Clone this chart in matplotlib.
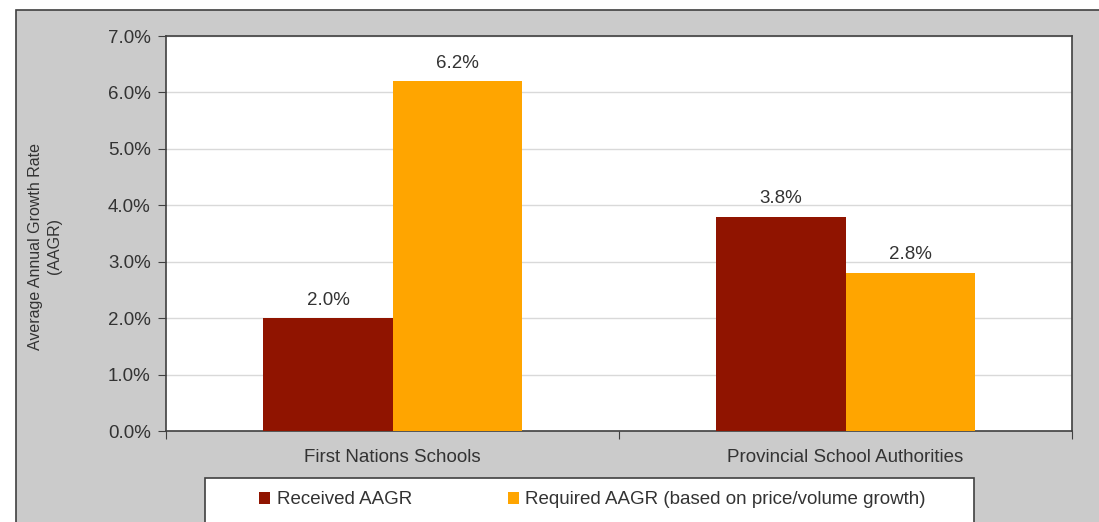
import matplotlib.pyplot as plt
import numpy as np
from matplotlib.patches import Rectangle

plt.rcParams['font.family'] = ['Liberation Sans', 'DejaVu Sans']

categories = ["First Nations Schools", "Provincial School Authorities"]
received = [2.0, 3.8]
required = [6.2, 2.8]
series_names = ["Received AAGR", "Required AAGR (based on price/volume growth)"]
yticks = [0, 1, 2, 3, 4, 5, 6, 7]

W, H = 1099, 522
fig = plt.figure(figsize=(W / 100, H / 100), dpi=100)
fig.patch.set_facecolor("white")

# gray chart frame
fig.patches.append(Rectangle((16 / W, -0.1), 1.2, (H - 10) / H + 0.1,
                             transform=fig.transFigure, facecolor="#cbcbcb",
                             edgecolor="#404040", lw=1.2, zorder=-3))

ax = fig.add_axes([166 / W, (H - 431) / H, (1072 - 166) / W, (431 - 36) / H])
ax.set_facecolor("white")

x = np.arange(len(categories))
bw = 0.285
b1 = ax.bar(x - bw / 2, received, bw, color="#901400", label=series_names[0], zorder=3)
b2 = ax.bar(x + bw / 2, required, bw, color="#ffa500", label=series_names[1], zorder=3)

for bars, vals in [(b1, received), (b2, required)]:
    for b, v in zip(bars, vals):
        ax.text(b.get_x() + b.get_width() / 2, v + 0.17, f"{v:.1f}%",
                ha="center", va="bottom", fontsize=13.5, color="#333333")

ax.set_xlim(-0.5, 1.5)
ax.set_ylim(0, 7)
ax.set_yticks(yticks)
ax.set_yticklabels([f"{t:.1f}%" for t in yticks], fontsize=13.5, color="#333333")
ax.yaxis.grid(True, color="#d9d9d9", lw=1, zorder=0)
ax.set_xticks([-0.5, 0.5, 1.5])
ax.set_xticklabels([])
ax.set_xticks(x, minor=True)
ax.set_xticklabels(categories, minor=True, fontsize=13.5, color="#333333")
ax.tick_params(axis="x", which="minor", length=0, pad=13)
ax.tick_params(axis="x", which="major", length=6, color="#404040", direction="out")
ax.tick_params(axis="y", length=6, color="#404040", pad=5)
for s in ax.spines.values():
    s.set_color("#404040")
    s.set_linewidth(1.2)

fig.text(45 / W, 1 - 246 / H, "Average Annual Growth Rate\n(AAGR)", rotation=90,
         ha="center", va="center", fontsize=11.5, color="#333333", linespacing=1.3)

# legend box (cut off at bottom like the original)
fig.patches.append(Rectangle((205 / W, -0.1), (974 - 205) / W, (H - 478) / H + 0.1,
                             transform=fig.transFigure, facecolor="white",
                             edgecolor="#404040", lw=1.2, zorder=-2))
leg = fig.legend(handles=[b1, b2], loc="center left",
                 bbox_to_anchor=(242 / W, 1 - 500 / H), ncol=2, frameon=False,
                 fontsize=13.5, handlelength=0.6, handleheight=0.6,
                 handletextpad=0.35, columnspacing=5.1)
for t in leg.get_texts():
    t.set_color("#333333")

fig.savefig("out.png", dpi=100)
